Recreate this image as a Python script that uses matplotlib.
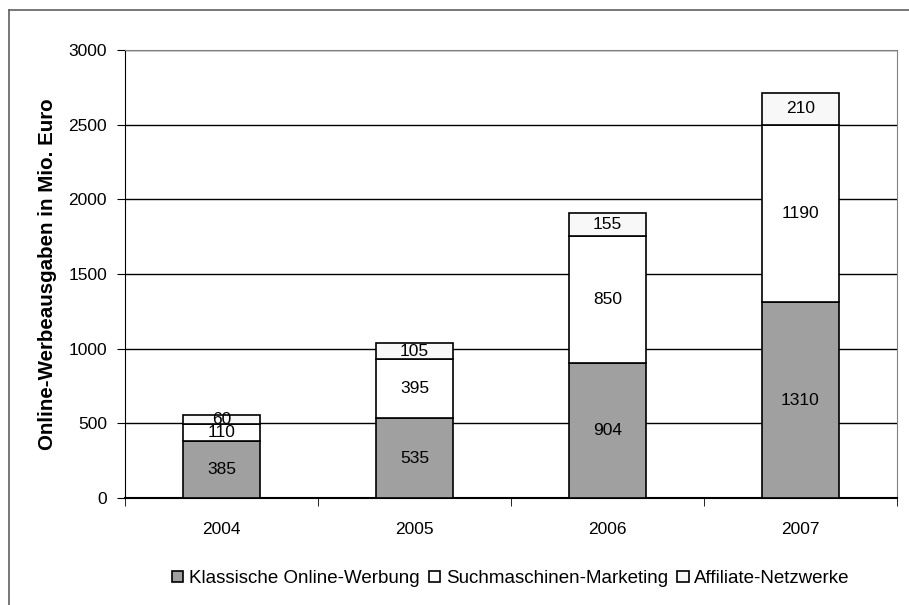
import matplotlib.pyplot as plt
from matplotlib.lines import Line2D
import numpy as np

plt.rcParams['font.family'] = ['Liberation Sans', 'DejaVu Sans']

# Daten
jahre = ["2004", "2005", "2006", "2007"]
klassisch = [385, 535, 904, 1310]
suchmaschinen = [110, 395, 850, 1190]
affiliate = [60, 105, 155, 210]

fig = plt.figure(figsize=(9.09, 6.05), dpi=100)
ax = fig.add_axes([125/909, 1-498/605, (897-125)/909, (498-50)/605])

x = np.arange(len(jahre))
b1 = ax.bar(x, klassisch, 0.4, color="#a0a0a0", edgecolor="black", linewidth=1.2,
            label="Klassische Online-Werbung", zorder=3)
b2 = ax.bar(x, suchmaschinen, 0.4, bottom=klassisch, color="white", edgecolor="black",
            linewidth=1.2, label="Suchmaschinen-Marketing", zorder=3)
unten = [a + b for a, b in zip(klassisch, suchmaschinen)]
b3 = ax.bar(x, affiliate, 0.4, bottom=unten, color="#f8f8f8", edgecolor="black",
            linewidth=1.2, label="Affiliate-Netzwerke", zorder=3)

for b in (b1, b2, b3):
    ax.bar_label(b, label_type="center", fontsize=12.5, color="black")

ax.set_xlim(-0.5, 3.5)
ax.set_ylim(0, 3000)
ax.set_yticks(range(0, 3001, 500))
ax.set_xticks(x)
ax.set_xticklabels(jahre)
ax.set_xticks(np.arange(-0.5, 4, 1), minor=True)
ax.tick_params(axis="x", which="major", length=0, pad=17, labelsize=12.5)
ax.tick_params(axis="x", which="minor", length=6, direction="out", color="black")
ax.tick_params(axis="y", length=6, direction="out", pad=7, labelsize=12.5)
ax.grid(axis="y", color="black", linewidth=1, zorder=0)

ax.spines["left"].set_color("black")
ax.spines["bottom"].set_color("black")
ax.spines["bottom"].set_linewidth(1.5)
ax.spines["top"].set_color("#808080")
ax.spines["right"].set_color("#808080")

ax.set_ylabel("Online-Werbeausgaben in Mio. Euro", fontsize=14.8, fontweight="bold", labelpad=8)

ax.legend(loc="center", bbox_to_anchor=(0.5, -0.18), ncol=3, frameon=False,
          fontsize=13.5, handlelength=0.6, handleheight=0.6, handletextpad=0.3,
          columnspacing=0.5)

# Rahmen um das Diagramm
fig.add_artist(Line2D([9/909, 9/909], [0, 1-10/605], color="#606060", linewidth=1.2))
fig.add_artist(Line2D([9/909, 1], [1-10/605, 1-10/605], color="#606060", linewidth=1.2))

fig.savefig("out.png", dpi=100)
